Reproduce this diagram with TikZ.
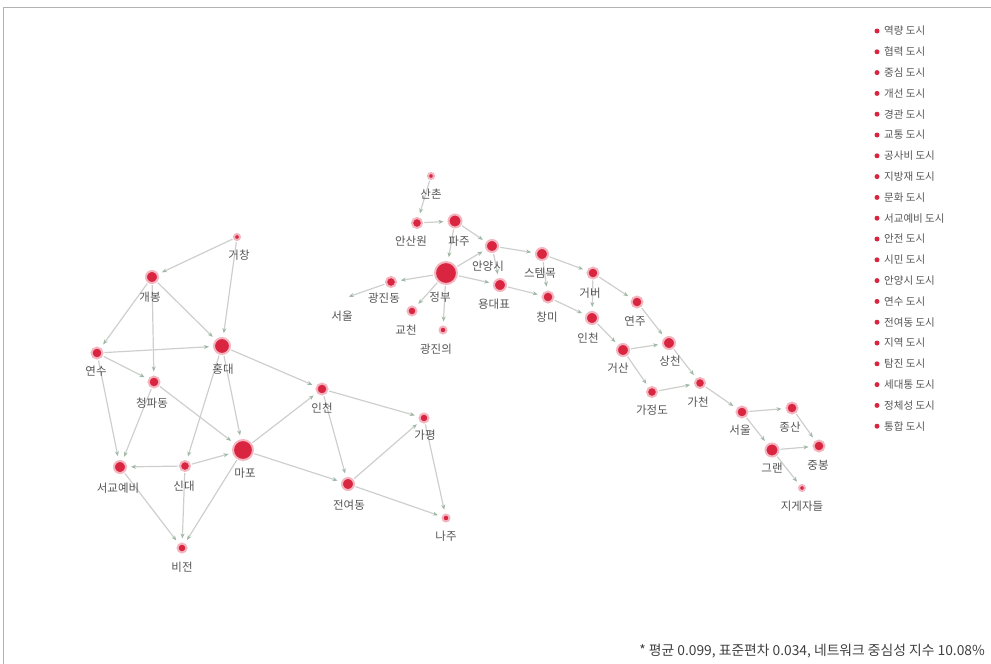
\documentclass[tikz,border=0pt]{standalone}
\usepackage{fontspec}
\setmainfont{Noto Sans CJK KR}
\usetikzlibrary{arrows.meta,backgrounds}
\definecolor{nodered}{HTML}{D9253F}
\definecolor{glow}{HTML}{F3B6C0}
\definecolor{edgec}{HTML}{CDCFCD}
\definecolor{tipc}{HTML}{9DB8A4}
\definecolor{txt}{HTML}{555555}
\tikzset{
  dot/.style={circle, fill=nodered, draw=glow, line width=2pt, minimum size=#1, inner sep=0pt},
  lab/.style={text=txt, font=\fontsize{11.5}{12}\selectfont, inner sep=0.5pt},
  leg/.style={text=txt, font=\fontsize{10.5}{11}\selectfont, anchor=west, inner sep=0pt},
  legdot/.style={circle, fill=nodered, minimum size=5pt, inner sep=0pt},
  edge/.style={draw=edgec, line width=1.2pt, -{Stealth[length=5pt,width=4pt,color=tipc]}, shorten >=4pt, shorten <=1pt},
  frame/.style={draw=black!30, line width=0.8pt}
}
\begin{document}
\begin{tikzpicture}[x=1pt,y=-1pt]
\useasboundingbox (0,0) rectangle (991,664);
\draw[frame] (3,664) -- (3,7) -- (991,7);

% ---------- left cluster ----------
\node[dot=6pt]  (a1) at (237,237) {};
\node[dot=12pt] (a2) at (152,277) {};
\node[dot=16pt] (a3) at (222,346) {};
\node[dot=11pt] (a4) at (97,353) {};
\node[dot=11pt] (a5) at (154,382) {};
\node[dot=20pt] (a6) at (243,450) {};
\node[dot=12pt] (a7) at (120,467) {};
\node[dot=10pt] (a8) at (185,466) {};
\node[dot=9pt]  (a9) at (182,548) {};
\node[dot=11pt] (a10) at (322,389) {};
\node[dot=9pt]  (a11) at (424,418) {};
\node[dot=12pt] (a12) at (348,484) {};
\node[dot=7pt]  (a13) at (446,518) {};

\node[lab] (la1) at (239,255) {거창};
\node[lab] (la2) at (150,297) {개봉};
\node[lab] (la3) at (223,369) {홍대};
\node[lab] (la4) at (96,371) {연수};
\node[lab] (la5) at (152,403) {청파동};
\node[lab] (la6) at (245,473) {마포};
\node[lab] (la7) at (118,488) {서교예비};
\node[lab] (la8) at (184,486) {신대};
\node[lab] (la9) at (182,567) {비전};
\node[lab] (la10) at (322,408) {인천};
\node[lab] (la11) at (425,435) {가평};
\node[lab] (la12) at (349,505) {전여동};
\node[lab] (la13) at (446,536) {나주};

% ---------- right cluster ----------
\node[dot=6pt]  (b1) at (431,176) {};
\node[dot=10pt] (b2) at (417,223) {};
\node[dot=13pt] (b3) at (455,221) {};
\node[dot=12pt] (b5) at (492,246) {};
\node[dot=22pt] (b4) at (446,273) {};
\node[dot=12pt] (b6) at (500,285) {};
\node[dot=10pt] (b7) at (391,282) {};
\node[dot=9pt]  (b8) at (412,311) {};
\node[dot=7pt]  (b9) at (443,330) {};
\coordinate (b10) at (345,298);
\node[dot=12pt] (c1) at (542,254) {};
\node[dot=11pt] (c2) at (548,297) {};
\node[dot=11pt] (c3) at (593,273) {};
\node[dot=12pt] (c4) at (592,318) {};
\node[dot=11pt] (c5) at (637,302) {};
\node[dot=12pt] (c6) at (623,350) {};
\node[dot=12pt] (c7) at (669,343) {};
\node[dot=10pt] (c8) at (652,392) {};
\node[dot=10pt] (c9) at (700,383) {};
\node[dot=11pt] (c10) at (742,412) {};
\node[dot=11pt] (c11) at (792,408) {};
\node[dot=13pt] (c12) at (772,450) {};
\node[dot=11pt] (c13) at (819,446) {};
\node[dot=6pt]  (c14) at (802,488) {};

\node[lab] (lb1) at (431,194) {산촌};
\node[lab] (lb2) at (411,241) {안산원};
\node[lab] (lb3) at (459,241) {파주};
\node[lab] (lb5) at (488,266) {안양시};
\node[lab] (lb4) at (440,297) {정부};
\node[lab] (lb6) at (494,304) {용대표};
\node[lab] (lb7) at (384,298) {광진동};
\node[lab] (lb8) at (406,330) {교천};
\node[lab] (lb9) at (436,349) {광진의};
\node[lab] (lb10) at (342,316) {서울};
\node[lab] (lc1) at (540,273) {스템목};
\node[lab] (lc2) at (547,317) {창미};
\node[lab] (lc3) at (590,293) {거버};
\node[lab] (lc4) at (588,338) {인천};
\node[lab] (lc5) at (635,321) {연주};
\node[lab] (lc6) at (618,368) {거산};
\node[lab] (lc7) at (670,361) {상천};
\node[lab] (lc8) at (652,410) {가정도};
\node[lab] (lc9) at (698,402) {가천};
\node[lab] (lc10) at (740,430) {서울};
\node[lab] (lc11) at (790,427) {종산};
\node[lab] (lc12) at (772,468) {그랜};
\node[lab] (lc13) at (818,465) {중봉};
\node[lab] (lc14) at (802,506) {지게자들};

\begin{scope}[on background layer]
\draw[edge] (a1) -- (a2);
\draw[edge] (a1) -- (a3);
\draw[edge] (a2) -- (a4);
\draw[edge] (a2) -- (a3);
\draw[edge] (a2) -- (a5);
\draw[edge] (a4) -- (a3);
\draw[edge] (a4) -- (a5);
\draw[edge] (a4) -- (a7);
\draw[edge] (a5) -- (a7);
\draw[edge] (a5) -- (a6);
\draw[edge] (a3) -- (a6);
\draw[edge] (a3) -- (a8);
\draw[edge] (a3) -- (a10);
\draw[edge] (a8) -- (a7);
\draw[edge] (a8) -- (a6);
\draw[edge] (a7) -- (a9);
\draw[edge] (a8) -- (a9);
\draw[edge] (a6) -- (a9);
\draw[edge] (a6) -- (a10);
\draw[edge] (a6) -- (a12);
\draw[edge] (a10) -- (a11);
\draw[edge] (a10) -- (a12);
\draw[edge] (a12) -- (a11);
\draw[edge] (a11) -- (a13);
\draw[edge] (a12) -- (a13);

\draw[edge] (b1) -- (b2);
\draw[edge] (b2) -- (b3);
\draw[edge] (b3) -- (b4);
\draw[edge] (b3) -- (b5);
\draw[edge] (b4) -- (b5);
\draw[edge] (b4) -- (b6);
\draw[edge] (b4) -- (b7);
\draw[edge] (b4) -- (b8);
\draw[edge] (b4) -- (b9);
\draw[edge] (b7) -- (b10);
\draw[edge] (b5) -- (c1);
\draw[edge] (b6) -- (c2);
\draw[edge] (b5) -- (b6);
\draw[edge] (c1) -- (c3);
\draw[edge] (c1) -- (c2);
\draw[edge] (c2) -- (c4);
\draw[edge] (c3) -- (c5);
\draw[edge] (c3) -- (c4);
\draw[edge] (c4) -- (c6);
\draw[edge] (c5) -- (c7);
\draw[edge] (c6) -- (c7);
\draw[edge] (c6) -- (c8);
\draw[edge] (c8) -- (c9);
\draw[edge] (c7) -- (c9);
\draw[edge] (c9) -- (c10);
\draw[edge] (c10) -- (c11);
\draw[edge] (c10) -- (c12);
\draw[edge] (c11) -- (c13);
\draw[edge] (c12) -- (c13);
\draw[edge] (c12) -- (c14);
\end{scope}

% ---------- legend ----------
\foreach \t [count=\i] in {역량 도시, 협력 도시, 중심 도시, 개선 도시, 경관 도시, 교통 도시, 공사비 도시, 지방재 도시, 문화 도시, 서교예비 도시, 안전 도시, 시민 도시, 안양시 도시, 연수 도시, 전여동 도시, 지역 도시, 탐진 도시, 세대통 도시, 정체성 도시, 통합 도시}{
  \node[legdot] (d\i) at (877, {31+(\i-1)*20.8}) {};
  \node[leg] (t\i) at (884, {31+(\i-1)*20.8}) {\t};
}

% ---------- footnote ----------
\node[text=black!75, font=\fontsize{13.8}{15}\selectfont, anchor=east, inner sep=0pt] (note) at (985,651) {* 평균 0.099, 표준편차 0.034, 네트워크 중심성 지수 10.08\%};
\end{tikzpicture}
\end{document}
